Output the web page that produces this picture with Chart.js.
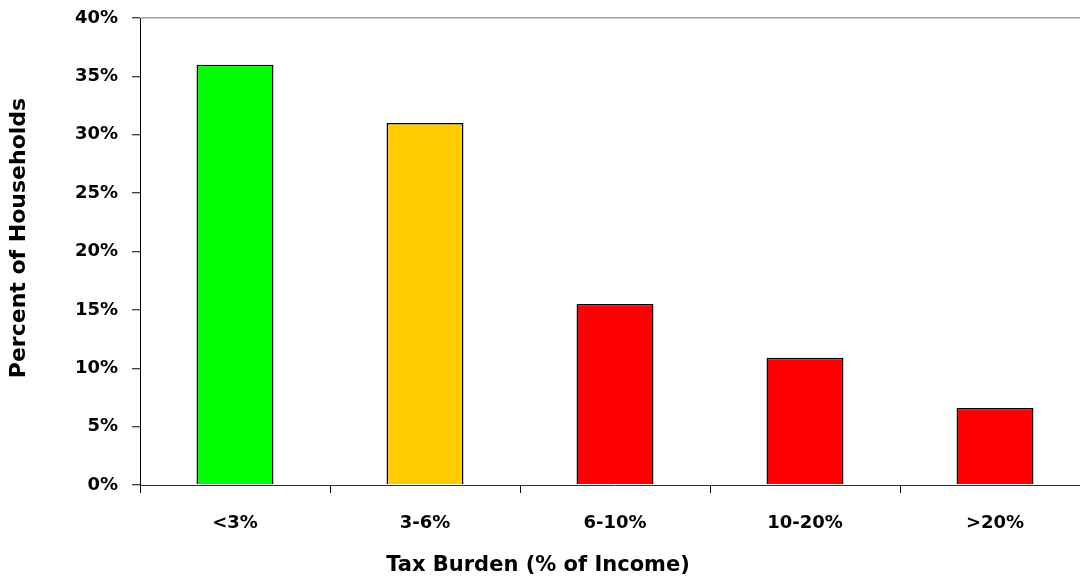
<!DOCTYPE html>
<html>
<head>
<meta charset="utf-8">
<script src="https://cdn.jsdelivr.net/npm/chart.js@4/dist/chart.umd.min.js"></script>
<style>
  html, body { margin: 0; padding: 0; background: #fff; overflow: hidden; }
  #wrap { width: 1100px; height: 582px; }
</style>
</head>
<body>
<div id="wrap"><canvas id="c" width="1100" height="582"></canvas></div>
<script>
// Share of households by tax burden bracket
const categories = ['<3%', '3-6%', '6-10%', '10-20%', '>20%'];
const householdShare = [36.0, 31.0, 15.5, 10.9, 6.6];
const barColors = ['#00ff00', '#ffcc00', '#ff0000', '#ff0000', '#ff0000'];
const yTicks = [0, 5, 10, 15, 20, 25, 30, 35, 40];
const xTitle = 'Tax Burden (% of Income)';
const yTitle = 'Percent of Households';

const FONT = 'DejaVu Sans';

// Axis titles drawn at fixed spots in the frame
const axisTitles = {
  id: 'axisTitles',
  afterDraw(chart) {
    const ctx = chart.ctx;
    ctx.save();
    ctx.fillStyle = '#000';
    ctx.font = 'bold 21px "' + FONT + '"';
    ctx.textAlign = 'center';
    ctx.textBaseline = 'middle';
    ctx.fillText(xTitle, 538, 566);
    ctx.font = 'bold 22px "' + FONT + '"';
    ctx.translate(19, 238);
    ctx.rotate(-Math.PI / 2);
    ctx.fillText(yTitle, 0, 0);
    ctx.restore();
  }
};

new Chart(document.getElementById('c'), {
  type: 'bar',
  data: {
    labels: categories,
    datasets: [{
      data: householdShare,
      backgroundColor: barColors,
      borderColor: '#000',
      borderWidth: 1.5,
      barPercentage: 0.405,
      categoryPercentage: 1.0
    }]
  },
  options: {
    responsive: false,
    animation: false,
    layout: { padding: { top: 18, right: 10, left: 0, bottom: 0 } },
    plugins: { legend: { display: false }, tooltip: { enabled: false } },
    scales: {
      x: {
        afterFit: s => { s.height = 97; s.paddingLeft = 0; s.paddingRight = 0; },
        border: { color: '#333', width: 1 },
        grid: { offset: true, drawOnChartArea: false, tickLength: 8, tickColor: '#000', tickWidth: 1 },
        ticks: { color: '#000', padding: 20, font: { family: FONT, size: 18, weight: 'bold' } }
      },
      y: {
        min: 0, max: 40,
        afterFit: s => { s.width = 140; s.paddingTop = 0; s.paddingBottom = 0; },
        afterBuildTicks: s => { s.ticks = yTicks.map(v => ({ value: v })); },
        border: { color: '#000', width: 1 },
        grid: {
          drawOnChartArea: true,
          color: c => (c.tick && c.tick.value === 40 ? '#a0a0a0' : 'rgba(0,0,0,0)'),
          lineWidth: 1.5,
          tickLength: 8, tickColor: '#000', tickWidth: 1
        },
        ticks: {
          color: '#000', padding: 14,
          font: { family: FONT, size: 18, weight: 'bold' },
          callback: v => v + '%'
        }
      }
    }
  },
  plugins: [axisTitles]
});
</script>
</body>
</html>
